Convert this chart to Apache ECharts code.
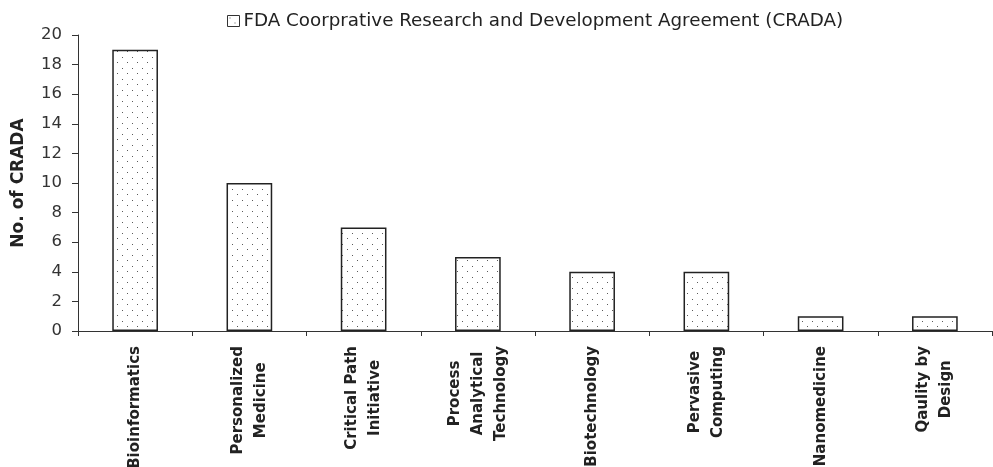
<!DOCTYPE html>
<html>
<head>
<meta charset="utf-8">
<script src="https://cdn.jsdelivr.net/npm/echarts@6/dist/echarts.min.js"></script>
<style>
  html, body { margin: 0; padding: 0; background: #fff; }
  #chart { width: 993px; height: 467px; }
</style>
</head>
<body>
<div id="chart"></div>
<script>
// Research areas and number of agreements in each
const categories = [
  'Bioinformatics',
  'Personalized\nMedicine',
  'Critical Path\nInitiative',
  'Process\nAnalytical\nTechnology',
  'Biotechnology',
  'Pervasive\nComputing',
  'Nanomedicine',
  'Qaulity by\nDesign'
];
const cradaCounts = [19, 10, 7, 5, 4, 4, 1, 1];
const seriesName = 'FDA Coorprative Research and Development Agreement (CRADA)';
const yTicks = { min: 0, max: 20, step: 2 };

// Dotted fill used for the bars and the legend swatch
function dotTile() {
  const c = document.createElement('canvas');
  c.width = 10; c.height = 11;
  const g = c.getContext('2d');
  g.fillStyle = '#ffffff';
  g.fillRect(0, 0, 10, 11);
  g.fillStyle = '#5a5a5a';
  g.fillRect(2, 2, 1, 1);
  g.fillRect(7, 7, 1, 1);
  return c;
}
const dots = { image: dotTile(), repeat: 'repeat' };

const chart = echarts.init(document.getElementById('chart'), null, { renderer: 'canvas' });
chart.setOption({
  backgroundColor: '#ffffff',
  animation: false,
  legend: {
    left: 222,
    top: 7,
    itemWidth: 12,
    itemHeight: 11,
    icon: 'rect',
    itemStyle: { borderColor: '#333', borderWidth: 1 },
    textStyle: { fontFamily: 'DejaVu Sans', fontSize: 18.3, color: '#222', padding: [0, 0, 0, -1] },
    data: [seriesName]
  },
  grid: {
    left: 78, right: 1, top: 35, bottom: 136,
    containLabel: false,
    outerBoundsMode: 'none'
  },
  xAxis: {
    type: 'category',
    data: categories,
    axisLine: { lineStyle: { color: '#333', width: 1 } },
    axisTick: { show: true, alignWithLabel: false, length: 5, lineStyle: { color: '#333' } },
    axisLabel: {
      interval: 0,
      rotate: 90,
      margin: 15,
      hideOverlap: false,
      formatter: function (v) {
        return v.split('\n').map(function (s) { return '{c|' + s + '}'; }).join('\n');
      },
      rich: {
        c: {
          align: 'center',
          fontFamily: 'DejaVu Sans',
          fontWeight: 'bold',
          fontSize: 15,
          lineHeight: 23,
          color: '#222'
        }
      }
    }
  },
  yAxis: {
    type: 'value',
    min: yTicks.min,
    max: yTicks.max,
    interval: yTicks.step,
    name: 'No. of CRADA',
    nameLocation: 'middle',
    nameGap: 51,
    nameTextStyle: { fontFamily: 'DejaVu Sans', fontWeight: 'bold', fontSize: 17, color: '#222' },
    axisLine: { show: true, lineStyle: { color: '#333', width: 1 } },
    axisTick: { show: true, length: 6, lineStyle: { color: '#333' } },
    axisLabel: { fontFamily: 'DejaVu Sans', fontSize: 16.5, color: '#333', margin: 16 },
    splitLine: { show: false }
  },
  series: [{
    name: seriesName,
    type: 'bar',
    data: cradaCounts,
    barWidth: '40%',
    itemStyle: { color: dots, borderColor: '#222', borderWidth: 1.5 }
  }]
});
</script>
</body>
</html>
